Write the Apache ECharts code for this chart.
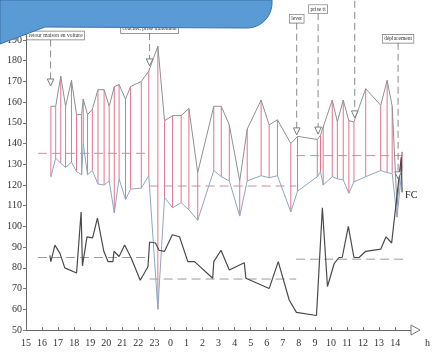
<!DOCTYPE html>
<html>
<head>
<meta charset="utf-8">
<script src="https://cdn.jsdelivr.net/npm/echarts@6/dist/echarts.min.js"></script>
<style>
html, body { margin: 0; padding: 0; background: #fff; }
#c { width: 433px; height: 357px; }
</style>
</head>
<body>
<div id="c"></div>
<script>
// 24-hour ambulatory record starting at 15:00: blood pressure (systolic / diastolic) and heart rate (FC)

const hourTicks = [15, 16, 17, 18, 19, 20, 21, 22, 23, 0, 1, 2, 3, 4, 5, 6, 7, 8, 9, 10, 11, 12, 13, 14];

const bpTimes = ['16:33', '16:51', '17:10', '17:28', '17:50', '18:09', '18:28', '18:34', '18:50', '19:08',
  '19:29', '19:52', '20:11', '20:30', '20:48', '21:12', '21:31', '22:11', '22:39', '23:13',
  '23:38', '0:08', '0:40', '1:09', '1:42', '2:42', '3:10', '3:40', '4:19', '4:47',
  '5:39', '6:09', '6:40', '7:30', '7:55', '9:09', '9:21', '9:31', '10:05', '10:24',
  '10:46', '11:07', '11:26', '12:10', '13:06', '13:30', '13:49', '14:07', '14:26'];
const systolic = [158, 158, 172.5, 158, 170.5, 154, 154, 161.5, 154, 156.5,
  166, 166, 158, 167.5, 168.5, 161.5, 167.5, 170, 175, 187,
  151, 153.5, 153.5, 157, 126, 158, 158, 149, 122, 147,
  161, 149, 151.5, 140, 143.5, 142, 144, 148, 161, 150.5,
  161, 151, 150.5, 166.5, 158.5, 170.5, 158, 110, 136];
const diastolic = [124, 133, 130.5, 128.5, 131, 126.5, 125, 140, 125, 127,
  120.5, 120, 122, 106.5, 123, 113, 118, 118.5, 124.5, 60,
  114, 109, 111.5, 108, 103, 127, 124, 122, 105, 122,
  124.5, 123.5, 124.5, 107, 117, 124, 126.5, 120, 124, 123,
  122.5, 116, 121.5, 124, 127, 126, 125.5, 104.5, 128];

const hrTimes = ['16:29', '16:33', '16:48', '17:07', '17:25', '18:09', '18:26', '18:31', '18:48', '19:09',
  '19:27', '19:51', '20:07', '20:25', '20:29', '20:48', '21:09', '21:34', '22:07', '22:36',
  '22:42', '23:04', '23:17', '23:38', '0:07', '0:34', '1:05', '1:30', '2:38', '2:42',
  '3:09', '3:40', '4:36', '4:42', '6:09', '6:43', '7:24', '7:51', '9:06', '9:28',
  '9:47', '10:12', '10:30', '10:42', '11:05', '11:26', '11:45', '12:10', '13:06', '13:26',
  '13:47', '14:23', '14:26'];
const heartRate = [86, 83, 91, 87, 80, 77.5, 107, 81, 95, 94.5,
  104, 88, 83, 83, 88, 85.5, 91, 84.5, 74, 80.5,
  92.5, 92, 88.5, 88, 96, 95, 83, 83, 75, 83,
  88.5, 79, 82.5, 75, 70, 83, 64.5, 58.5, 57, 109,
  71, 82, 85, 85, 100, 85, 85, 88, 89, 95,
  92, 133.5, 116.5];

// period averages (day / night / day)
const periodStart = ['15:45', '22:42', '7:50'];
const periodEnd = ['22:42', '7:50', '14:47'];
const bpMeans = [135.3, 119.5, 134.2];
const hrMeans = [85, 74.6, 84.2];

// diary events
const eventTimes = ['16:32', '22:42', '7:52', '9:12', '11:29', '14:11'];
const eventLabels = ['retour maison en voiture', 'coucher, prise traitement', 'lever', 'prise tt', '', 'déplacement'];
const eventMarks = [167.8, 177.5, 144.2, 144.6, 152.4, 123];
// where each event box sits (value level above the plot, sideways nudge in px)
const eventBoxLevel = [192.2, 195.3, 200.3, 204.9, 214.2, 190.6];
const eventBoxShift = [5, 0, 0, 0, 0, 0];

const X_MAX = 24.3;

const toH = s => {
  const [hh, mm] = s.split(':').map(Number);
  return (hh - 15 + 24) % 24 + mm / 60;
};

const bpRows = bpTimes.map((t, i) => [toH(t), systolic[i], diastolic[i]]);
const hrRows = hrTimes.map((t, i) => [toH(t), heartRate[i]]);

const serif = 'Liberation Serif, Times New Roman, serif';

const meanSeries = [];
periodStart.forEach((s, i) => {
  const a = toH(s), b = toH(periodEnd[i]);
  meanSeries.push({
    type: 'line', silent: true, showSymbol: false, z: 2,
    data: [[a, bpMeans[i]], [b, bpMeans[i]]],
    lineStyle: { color: '#c98ea1', width: 1, type: [9, 5] }
  });
  meanSeries.push({
    type: 'line', silent: true, showSymbol: false, z: 2,
    data: [[a, hrMeans[i]], [b, hrMeans[i]]],
    lineStyle: { color: '#a39898', width: 1, type: [9, 5] }
  });
});

// header banner with a rounded lower-right corner
const bannerPts = [[0, 0], [272, 0]];
for (let k = 0; k <= 12; k++) {
  const a = (k / 12) * Math.PI / 2;
  bannerPts.push([247 + 25 * Math.cos(a), 3 + 25 * Math.sin(a)]);
}
bannerPts.push([45, 27], [0, 44]);

const chart = echarts.init(document.getElementById('c'), null, { renderer: 'canvas' });

chart.setOption({
  animation: false,
  backgroundColor: '#fff',
  grid: { left: 26, right: 16, top: 33.8, bottom: 27, containLabel: false },
  xAxis: {
    type: 'value', min: 0, max: X_MAX, interval: 1,
    axisLine: { show: true, lineStyle: { color: '#666', width: 1 } },
    axisTick: { show: true, inside: true, length: 3, lineStyle: { color: '#777' } },
    axisLabel: {
      margin: 8, fontFamily: serif, fontSize: 10, color: '#333',
      showMaxLabel: false,
      formatter: v => {
        const k = Math.round(v);
        return k < hourTicks.length ? String(hourTicks[k]) : '';
      }
    },
    splitLine: { show: false },
    name: 'h', nameLocation: 'end', nameGap: 9,
    nameTextStyle: { fontFamily: serif, fontSize: 10, color: '#333', verticalAlign: 'top', padding: [8, 0, 0, 0] }
  },
  yAxis: {
    type: 'value', min: 50, max: 193, interval: 10,
    axisLine: { show: true, lineStyle: { color: '#666', width: 1 } },
    axisTick: { show: true, inside: false, length: 3, lineStyle: { color: '#777' } },
    axisLabel: {
      margin: 4, fontFamily: serif, fontSize: 10, color: '#333',
      formatter: v => (v <= 190 ? String(v) : '')
    },
    splitLine: { show: false }
  },
  series: [
    {
      // systolic–diastolic span of each reading
      type: 'custom', z: 1, silent: true,
      data: bpRows,
      encode: { x: 0, y: [1, 2] },
      renderItem: (params, api) => {
        const t = api.value(0);
        const p1 = api.coord([t, api.value(1)]);
        const p2 = api.coord([t, api.value(2)]);
        return {
          type: 'line',
          shape: { x1: p1[0], y1: p1[1], x2: p2[0], y2: p2[1] },
          style: { stroke: '#e27490', lineWidth: 1 }
        };
      }
    },
    {
      name: 'PAS', type: 'line', z: 3, showSymbol: false, silent: true,
      data: bpRows.map(r => [r[0], r[1]]),
      lineStyle: { color: '#8f9291', width: 1 }
    },
    {
      name: 'PAD', type: 'line', z: 3, showSymbol: false, silent: true,
      data: bpRows.map(r => [r[0], r[2]]),
      lineStyle: { color: '#8fa6c2', width: 1 }
    },
    {
      name: 'FC', type: 'line', z: 4, showSymbol: false, silent: true,
      data: hrRows,
      lineStyle: { color: '#4a4a4a', width: 1.2 },
      endLabel: {
        show: true, formatter: 'FC', distance: 3, offset: [0, 3],
        fontFamily: serif, fontSize: 10, color: '#222'
      }
    },
    ...meanSeries,
    {
      // diary events: label box, dashed drop line, open triangle
      type: 'custom', z: 6, silent: true, clip: false,
      data: eventTimes.map((t, i) => [toH(t), eventMarks[i], eventBoxLevel[i]]),
      encode: { x: 0, y: 1 },
      renderItem: (params, api) => {
        const i = params.dataIndex;
        const t = api.value(0);
        const tip = api.coord([t, api.value(1)]);
        const box = api.coord([t, api.value(2)]);
        const x = tip[0];
        const triH = 7, half = 3.3;
        const label = eventLabels[i];
        const children = [];
        const lineTop = label ? box[1] + 4 : box[1];
        children.push({
          type: 'line',
          shape: { x1: x, y1: lineTop, x2: x, y2: tip[1] - triH },
          style: { stroke: '#8a8a8a', lineWidth: 1, lineDash: [7, 4] }
        });
        children.push({
          type: 'polygon',
          shape: { points: [[x - half, tip[1] - triH], [x + half, tip[1] - triH], [x, tip[1]]] },
          style: { fill: '#fff', stroke: '#6f6f6f', lineWidth: 0.9 }
        });
        if (label) {
          children.push({
            type: 'text',
            x: x + eventBoxShift[i], y: box[1],
            style: {
              text: label, font: '5.5px ' + serif, fill: '#333',
              align: 'center', verticalAlign: 'middle',
              backgroundColor: '#fff', borderColor: '#777', borderWidth: 0.7,
              padding: [1, 1.5]
            }
          });
        }
        return { type: 'group', children };
      }
    }
  ],
  graphic: [{
    type: 'polygon', z: 100, silent: true,
    shape: { points: bannerPts },
    style: { fill: '#5b9bd5', stroke: '#3f70a3', lineWidth: 1 }
  }]
});

// open arrow head at the end of the time axis
const end = chart.convertToPixel({ gridIndex: 0 }, [X_MAX, 50]);
chart.setOption({
  graphic: [{
    type: 'polygon', z: 100, silent: true,
    shape: { points: bannerPts },
    style: { fill: '#5b9bd5', stroke: '#3f70a3', lineWidth: 1 }
  }, {
    type: 'polygon', z: 50, silent: true,
    shape: { points: [[end[0] - 5, end[1] - 5], [end[0] + 4, end[1]], [end[0] - 5, end[1] + 5]] },
    style: { fill: '#fff', stroke: '#777', lineWidth: 1 }
  }]
});
</script>
</body>
</html>
